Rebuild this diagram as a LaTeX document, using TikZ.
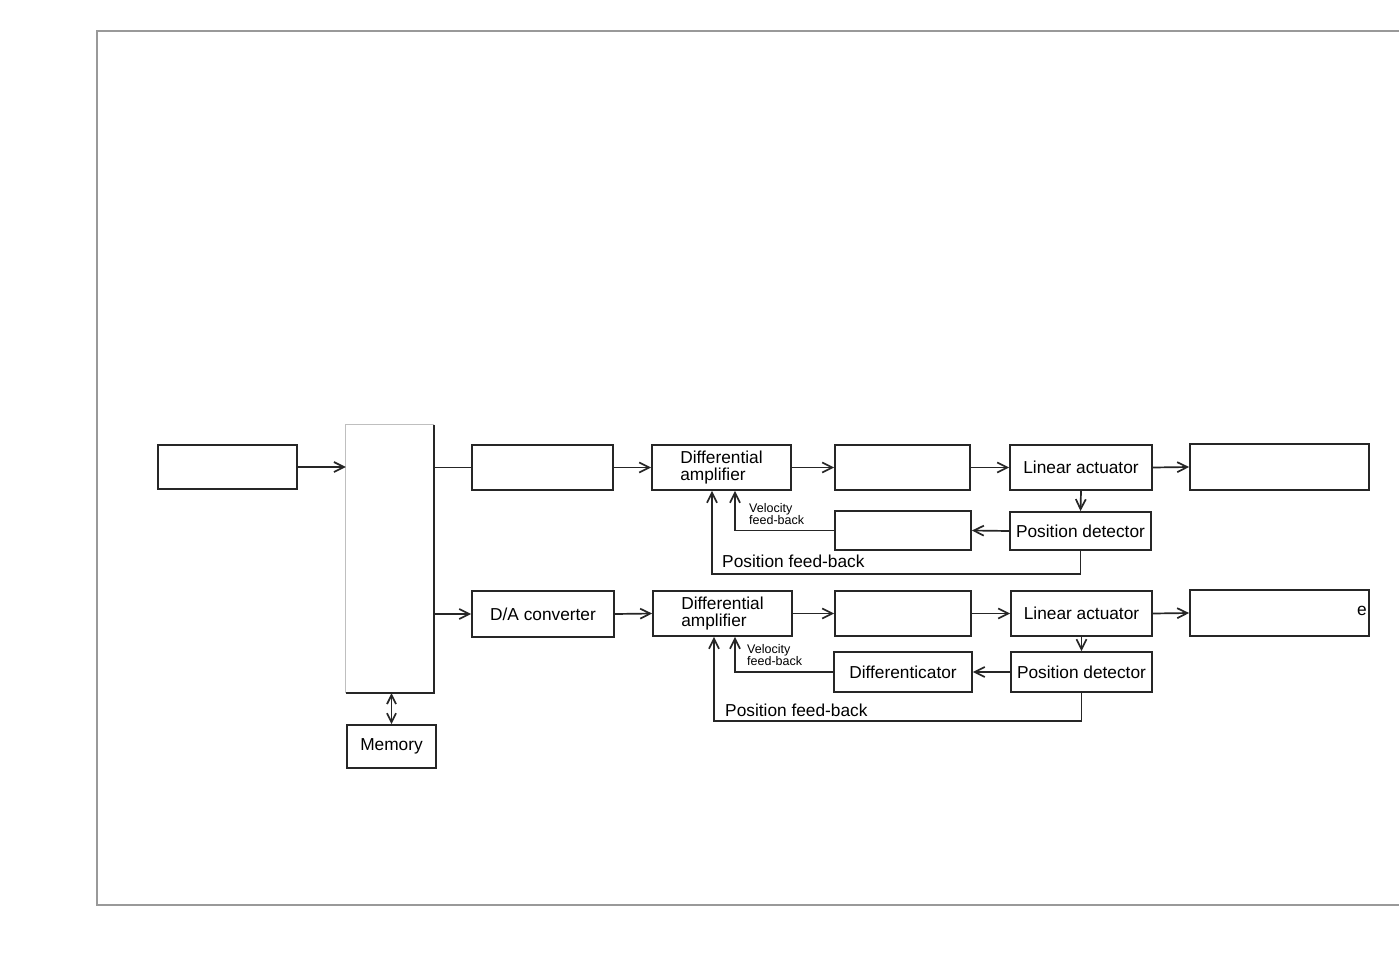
\documentclass[tikz,border=0pt]{standalone}
\usepackage{fontspec}
\setmainfont{Liberation Sans}
\usetikzlibrary{arrows.meta}
\begin{document}
\begin{tikzpicture}[x=1pt,y=-1pt,
  blk/.style={draw=black!85, line width=1.8pt, inner sep=0pt, font=\fontsize{17.3}{18}\selectfont},
  conn/.style={draw=black!85, line width=1.7pt},
  arr/.style={conn, -{Straight Barb[length=10pt,width=10pt,line width=1.7pt]}},
  darr/.style={conn, {Straight Barb[length=9pt,width=9pt,line width=1.7pt]}-{Straight Barb[length=9pt,width=9pt,line width=1.7pt]}},
  lbl/.style={inner sep=0pt, anchor=west, font=\fontsize{17.3}{18}\selectfont},
  small/.style={inner sep=0pt, anchor=west, align=left, font=\fontsize{12.5}{12.5}\selectfont},
  frame/.style={draw=black!40, line width=2.8pt}]
\useasboundingbox (0,0) rectangle (1399,963);
\fill[white] (0,0) rectangle (1399,963);
% page frame
\draw[frame] (1399,31) -- (97,31) -- (97,905) -- (1399,905);

% top row
\node[blk, minimum width=139, minimum height=44] (A) at (227.5,467) {};
\node[inner sep=0pt, minimum width=88, minimum height=268] (MPU) at (390,559) {};
\draw[draw=black!25, line width=1.2pt] (MPU.south west) -- (MPU.north west) -- (MPU.north east);
\draw[draw=black!85, line width=1.8pt] (MPU.north east) -- (MPU.south east) -- (MPU.south west);
\node[blk, minimum width=141, minimum height=45] (B) at (542.5,467.5) {};
\node[blk, minimum width=139, minimum height=45, align=left, font=\fontsize{17.3}{17.5}\selectfont] (DA1) at (721.5,467.5) {Differential\\amplifier};
\node[blk, minimum width=135, minimum height=45] (C) at (902.5,467.5) {};
\node[blk, minimum width=142, minimum height=45] (LA1) at (1081,467.5) {Linear actuator};
\node[blk, minimum width=179, minimum height=46] (D) at (1279.5,467) {};
\node[blk, minimum width=141, minimum height=38] (PD1) at (1080.5,531) {Position detector};
\node[blk, minimum width=136, minimum height=39] (E) at (903,530.5) {};

% bottom row
\node[blk, minimum width=142, minimum height=46] (DAC) at (543,614) {D/A converter};
\node[blk, minimum width=139, minimum height=45, align=left, font=\fontsize{17.3}{17.5}\selectfont] (DA2) at (722.5,613.5) {Differential\\amplifier};
\node[blk, minimum width=136, minimum height=45] (F) at (903,613.5) {};
\node[blk, minimum width=141, minimum height=45] (LA2) at (1081.5,613.5) {Linear actuator};
\node[blk, minimum width=179, minimum height=46] (G) at (1279.5,613) {};
\node[inner sep=0pt, anchor=east, font=\fontsize{17.3}{18}\selectfont] (Ge) at (1367,611) {e};
\node[blk, minimum width=141, minimum height=40] (PD2) at (1081.5,672) {Position detector};
\node[blk, minimum width=138, minimum height=40] (DIF) at (903,672) {Differenticator};
\node[blk, minimum width=89, minimum height=43] (MEM) at (391.5,746.5) {Memory};

% connectors top
\draw[arr] (A.east) -- (MPU.west |- A.east);
\draw[conn] (MPU.east |- B.west) -- (B.west);
\draw[arr] (B.east) -- (DA1.west);
\draw[arr] (DA1.east) -- (C.west);
\draw[arr] (C.east) -- (LA1.west);
\draw[arr] (LA1.east) -- (D.west);
\draw[arr] (LA1.south) -- (PD1.north);
\draw[arr] (PD1.west) -- (E.east);
\draw[arr] (E.west) -| ([xshift=13.5]DA1.south);
\draw[arr] (PD1.south) -- ++(0,23) -| ([xshift=-9.5]DA1.south);
\node[small] (vf1) at (749,514) {Velocity\\feed-back};
\node[lbl] (pf1) at (722,561) {Position feed-back};

% connectors bottom
\draw[arr] (MPU.east |- DAC.west) -- (DAC.west);
\draw[arr] (DAC.east) -- (DA2.west);
\draw[arr] (DA2.east) -- (F.west);
\draw[arr] (F.east) -- (LA2.west);
\draw[arr] (LA2.east) -- (G.west);
\draw[arr] (LA2.south) -- (PD2.north);
\draw[arr] (PD2.west) -- (DIF.east);
\draw[arr] (DIF.west) -| ([xshift=12.5]DA2.south);
\draw[arr] (PD2.south) -- ++(0,28) -| ([xshift=-8.5]DA2.south);
\node[small] (vf2) at (747,655) {Velocity\\feed-back};
\node[lbl] (pf2) at (725,710) {Position feed-back};

% memory
\draw[darr] (MEM.north |- MPU.south) -- (MEM.north);
\end{tikzpicture}
\end{document}
